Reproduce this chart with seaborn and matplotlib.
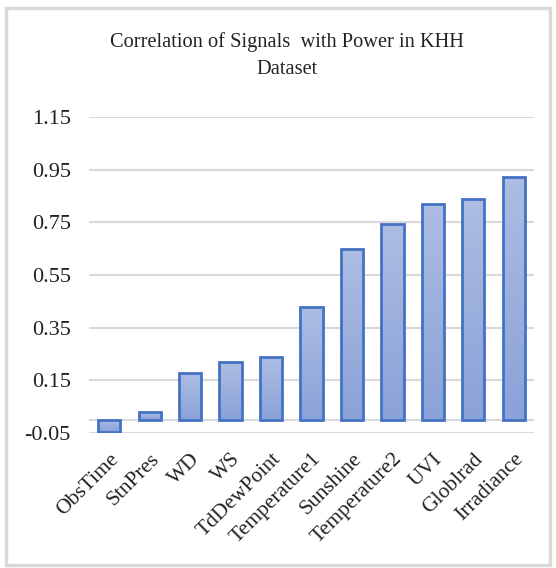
import numpy as np
import pandas as pd
import matplotlib
matplotlib.use("Agg")
import matplotlib.pyplot as plt
import seaborn as sns
from matplotlib.patches import Rectangle
from matplotlib.colors import LinearSegmentedColormap

categories = ["ObsTime", "StnPres", "WD", "WS", "TdDewPoint", "Temperature1",
              "Sunshine", "Temperature2", "UVI", "Globlrad", "Irradiance"]
correlations = [-0.046, 0.029, 0.178, 0.219, 0.239, 0.429,
                0.649, 0.742, 0.821, 0.838, 0.921]
yticks = [-0.05, 0.15, 0.35, 0.55, 0.75, 0.95, 1.15]

df = pd.DataFrame({"signal": categories, "corr": correlations})

sns.set_theme(style="white")
plt.rcParams['font.family'] = ['Liberation Serif', 'DejaVu Serif']

fig = plt.figure(figsize=(5.56, 5.68), dpi=100)
ax = fig.add_axes([89/556, 1 - 433/568, (534 - 89)/556, (433 - 117)/568])

sns.barplot(data=df, x="signal", y="corr", ax=ax, width=0.55,
            color="#9aafe0", edgecolor="#4472c4", linewidth=2.0, zorder=3)

# gradient fill inside each bar
grad = np.linspace(0, 1, 256).reshape(-1, 1)
cmap = LinearSegmentedColormap.from_list("g", ["#8aa2d8", "#adbde3"])
for p in list(ax.patches):
    x0, y0 = p.get_x(), p.get_y()
    w, h = p.get_width(), p.get_height()
    ylo, yhi = min(y0, y0 + h), max(y0, y0 + h)
    im = ax.imshow(grad, extent=[x0, x0 + w, ylo, yhi], origin="lower",
                   cmap=cmap, aspect="auto", zorder=3.5)
    im.set_clip_path(p)
    p.set_facecolor("none")
    p.set_zorder(4)

ax.set_ylim(-0.05, 1.15)
ax.set_xlim(-0.5, len(categories) - 0.5)
ax.set_yticks(yticks)
ax.set_yticklabels([f"{v:.2f}" for v in yticks], fontsize=16)
ax.set_xticks(range(len(categories)))
ax.set_xticklabels(categories, rotation=45, ha="right", rotation_mode="anchor",
                   fontsize=15.5)
ax.tick_params(axis="y", length=0, pad=13, colors="#222222")
ax.tick_params(axis="x", length=0, pad=12, colors="#222222")
ax.set_xlabel("")
ax.set_ylabel("")
for s in ax.spines.values():
    s.set_visible(False)
ax.yaxis.grid(True, color="#d9d9d9", linewidth=1.5, zorder=0)
ax.axhline(0, color="#d9d9d9", linewidth=1.5, zorder=2)
ax.set_axisbelow(True)

fig.text(287/556, 1 - 55.5/568, "Correlation of Signals  with Power in KHH\nDataset",
         ha="center", va="center", fontsize=14.7, linespacing=1.6, color="#222222")

fig.patches.append(Rectangle((6/556, 0.005), 0.99 - 6/556, 1 - 8/568 - 0.005,
                             transform=fig.transFigure, fill=False,
                             edgecolor="#d9d9d9", linewidth=2.5))

fig.savefig("out.png", dpi=100, facecolor="white")
